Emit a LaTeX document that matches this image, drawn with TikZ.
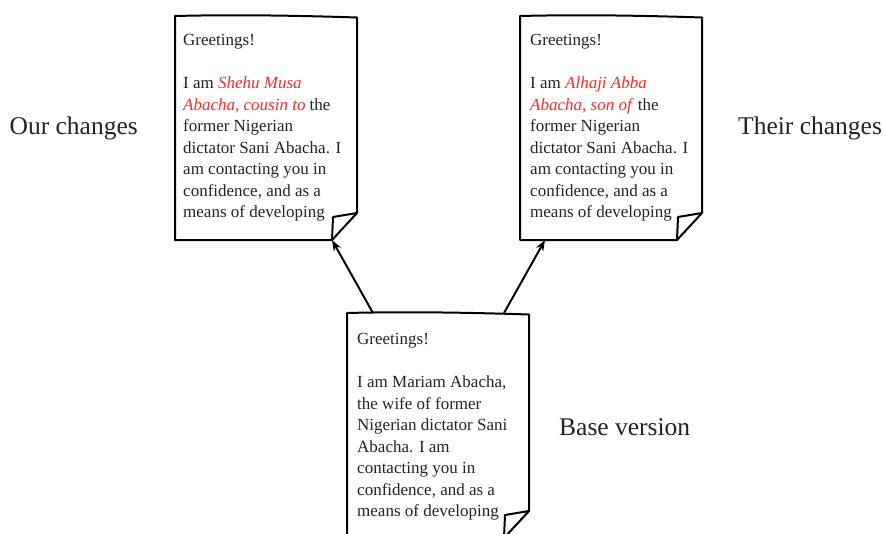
\documentclass[tikz,border=0pt]{standalone}
\usepackage{fontspec}
\setmainfont{Liberation Serif}
\usetikzlibrary{positioning, calc, arrows.meta}
\definecolor{changered}{RGB}{238,45,45}
\definecolor{inkgray}{RGB}{35,35,35}

% sheet of paper with a dog-eared corner
\newcommand{\drawpaper}[1]{%
  \draw[paperline] (#1.north west)
    .. controls ($(#1.north west)!0.33!(#1.north east)+(0,1.5)$) and ($(#1.north west)!0.66!(#1.north east)+(0,0.5)$) .. ($(#1.north east)+(0,-1.5)$)
    -- ($(#1.south east)+(0,27)$) -- ($(#1.south east)+(-25,0)$) -- (#1.south west) -- cycle;
  \draw[paperline] ($(#1.south east)+(0,27)$) -- ($(#1.south east)+(-24,23)$) -- ($(#1.south east)+(-25,0)$);
}

\begin{document}
\begin{tikzpicture}[x=1pt, y=1pt,
  paper/.style={rectangle, minimum width=182pt, minimum height=224pt, anchor=north west, inner sep=0pt, outer sep=0pt},
  doctext/.style={align=left, inner sep=0pt, text=inkgray, font={\fontsize{17pt}{21.5pt}\selectfont}},
  sidelabel/.style={inner sep=0pt, text=inkgray, font={\fontsize{25.5pt}{30pt}\selectfont}},
  paperline/.style={line width=2pt, line join=round},
  derive/.style={-{Stealth[length=11pt, width=8pt]}, line width=2pt}]
\useasboundingbox (0,0) rectangle (883,-533);
\clip (0,0) rectangle (883,-533);

% Sheets
\node[paper] (ours) at (175,-16) {};
\node[paper] (theirs) at (520,-16) {};
\node[paper, minimum height=225pt] (base) at (347,-313) {};
\drawpaper{ours}
\drawpaper{theirs}
\drawpaper{base}

% Letter texts
\node[doctext, below right=18.5pt and 8pt of ours.north west] (oursText) {Greetings!\\[21.5pt]I am \textcolor{changered}{\textit{Shehu Musa}}\\\textcolor{changered}{\textit{Abacha, cousin to}} the\\former Nigerian\\dictator Sani Abacha. I\\am contacting you in\\confidence, and as a\\means of developing};
\node[doctext, below right=18.5pt and 10pt of theirs.north west] (theirsText) {Greetings!\\[21.5pt]I am \textcolor{changered}{\textit{Alhaji Abba}}\\\textcolor{changered}{\textit{Abacha, son of}} the\\former Nigerian\\dictator Sani Abacha. I\\am contacting you in\\confidence, and as a\\means of developing};
\node[doctext, below right=20.5pt and 10pt of base.north west] (baseText) {Greetings!\\[21.5pt]I am Mariam Abacha,\\the wife of former\\Nigerian dictator Sani\\Abacha. I am\\contacting you in\\confidence, and as a\\means of developing};

% Labels
\node[sidelabel, left=37pt of ours] (oursLabel) {Our changes};
\node[sidelabel, right=36pt of theirs] (theirsLabel) {Their changes};
\node[sidelabel, right=30pt of base, yshift=-1.5pt] (baseLabel) {Base version};

% Arrows
\coordinate (oursFold) at ($(ours.south east)+(-25,0)$);
\coordinate (theirsFoot) at ($(theirs.south west)+(25,0)$);
\coordinate (baseLeft) at ($(base.north west)+(26,0)$);
\coordinate (baseRight) at ($(base.north east)+(-25,0)$);
\draw[derive] (baseLeft) -- (oursFold);
\draw[derive] (baseRight) -- (theirsFoot);
\end{tikzpicture}
\end{document}
